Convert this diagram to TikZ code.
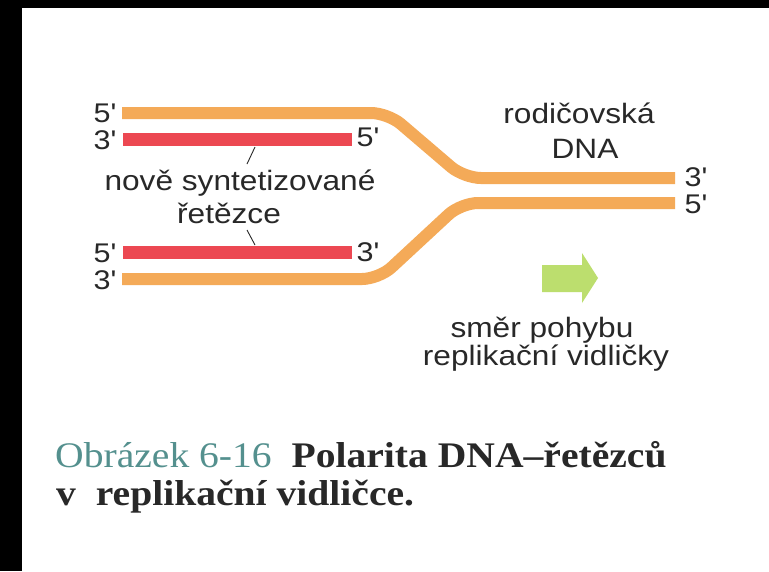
\documentclass[tikz,border=0pt]{standalone}
\usepackage{fontspec}
\newfontfamily\labfont[FakeStretch=1.13]{Liberation Sans}
\newfontfamily\capfont[FakeStretch=1.10]{Liberation Serif}
\definecolor{parent}{RGB}{244,170,88}
\definecolor{newred}{RGB}{236,72,82}
\definecolor{arrowgreen}{RGB}{188,222,110}
\definecolor{capteal}{RGB}{84,144,142}
\definecolor{txt}{RGB}{40,40,40}
\tikzset{
  parentstrand/.style={draw=parent, line width=12pt, rounded corners=17pt},
  newstrand/.style={draw=newred, line width=13pt},
  lab/.style={inner sep=0pt, text=txt, font=\labfont\fontsize{28}{32}\selectfont},
  endlab/.style={lab, anchor=center, font=\labfont\fontsize{27}{30}\selectfont},
  leader/.style={draw=txt, line width=0.9pt},
  captext/.style={inner sep=0pt, anchor=base west, text=txt, font=\capfont\fontsize{36}{40}\selectfont}
}
\begin{document}
\begin{tikzpicture}[x=1pt,y=-1pt]
\useasboundingbox (0,0) rectangle (769,571);
\fill[white] (0,0) rectangle (769,571);
\fill[black] (0,0) rectangle (769,8);
\fill[black] (0,0) rectangle (22,571);

% parental strands
\coordinate (pt1) at (122,113);
\coordinate (pt2) at (675,178);
\coordinate (pb1) at (122,279);
\coordinate (pb2) at (675,203);
\draw[parentstrand] (pt1) -- (388,113) -- (464,178) -- (pt2);
\draw[parentstrand] (pb1) -- (379,279) -- (461,203) -- (pb2);

% new strands
\coordinate (rt1) at (123,139);
\coordinate (rt2) at (352,139);
\coordinate (rb1) at (123,252);
\coordinate (rb2) at (352,252);
\draw[newstrand] (rt1) -- (rt2);
\draw[newstrand] (rb1) -- (rb2);

% end labels
\node[endlab] (l1) at (105,113) {5'};
\node[endlab] (l2) at (105,140) {3'};
\node[endlab] (l3) at (105,253) {5'};
\node[endlab] (l4) at (105,280) {3'};
\node[endlab] (l5) at (368,137) {5'};
\node[endlab] (l6) at (368,252) {3'};
\node[endlab] (l7) at (696,177) {3'};
\node[endlab] (l8) at (696,204) {5'};

% labels
\node[lab, anchor=base] (nove) at (240,190) {nově syntetizované};
\node[lab, anchor=base] (ret) at (229,223) {řetězce};
\node[lab, anchor=base] (rod) at (579,123) {rodičovská};
\node[lab, anchor=base] (dna) at (585,158) {DNA};
\node[lab, anchor=base] (smer) at (542,337) {směr pohybu};
\node[lab, anchor=base] (repl) at (546,365) {replikační vidličky};

% leader lines
\coordinate (a1) at (255,147);
\coordinate (a2) at (247,164);
\coordinate (b1) at (247,230);
\coordinate (b2) at (255,245);
\draw[leader] (a1) -- (a2);
\draw[leader] (b1) -- (b2);

% direction arrow
\fill[arrowgreen] (542,265) -- (582,265) -- (582,253) -- (598,278) -- (582,303) -- (582,292) -- (542,292) -- cycle;

% caption
\node[captext] (cap1) at (55,467) {\textcolor{capteal}{Obrázek 6-16}\ \ \textbf{Polarita DNA–řetězců}};
\node[captext] (cap2) at (56,505) {\textbf{v\ \ replikační vidličce.}};
\end{tikzpicture}
\end{document}
